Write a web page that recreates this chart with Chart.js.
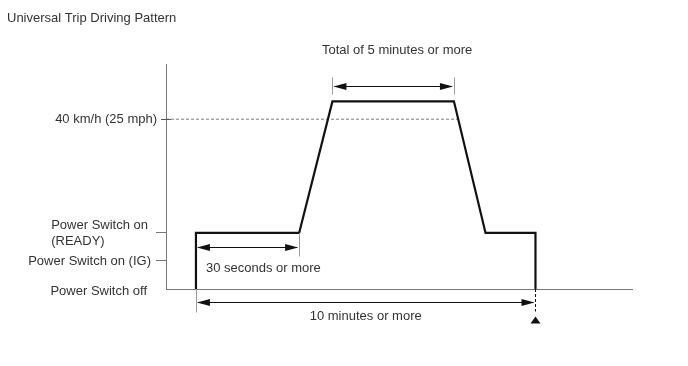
<!DOCTYPE html>
<html>
<head>
<meta charset="utf-8">
<script src="https://cdn.jsdelivr.net/npm/chart.js@4/dist/chart.umd.min.js"></script>
<style>
  html, body { margin: 0; padding: 0; background: #fff; }
  canvas { display: block; }
</style>
</head>
<body>
<canvas id="tripChart" width="688" height="366"></canvas>
<script>
// trip profile (time in minutes, level in chart units)
const timeMin = [0.9, 0.9, 4.0, 5.0, 8.65, 9.6, 11.1, 11.1];
const level = [0, 13.2, 13.2, 44.2, 44.2, 13.2, 13.2, 0];

// y-axis levels and their labels
const levelTicks = [0, 6.6, 13.2, 40];
const levelLabels = [
    ["Power Switch off"],
    ["Power Switch on (IG)"],
    ["Power Switch on", "(READY)"],
    ["40 km/h (25 mph)"],
];

// 40 km/h reference dashed line
const refLevel = 40;
const refEnd = 8.78;

// duration spans: label, from, to, level of the arrow
const spanLabels = ["Total of 5 minutes or more", "30 seconds or more", "10 minutes or more"];
const spanFrom = [5.0, 0.9, 0.9];
const spanTo = [8.65, 4.0, 11.1];
const spanLevel = [47.8, 9.9, -3.1];

const titleText = "Universal Trip Driving Pattern";
const font = "13px 'Liberation Sans', Arial, sans-serif";

const arrowHead = (ctx, x, y, dir) => {
    ctx.beginPath();
    ctx.moveTo(x, y);
    ctx.lineTo(x - dir * 13, y - 3.5);
    ctx.lineTo(x - dir * 13, y + 3.5);
    ctx.closePath();
    ctx.fill();
};

const vline = (ctx, x, y1, y2, color, dash) => {
    ctx.save();
    ctx.strokeStyle = color;
    ctx.lineWidth = 1;
    if (dash) ctx.setLineDash(dash);
    ctx.beginPath();
    ctx.moveTo(Math.round(x) + 0.5, y1);
    ctx.lineTo(Math.round(x) + 0.5, y2);
    ctx.stroke();
    ctx.restore();
};

const annotations = {
    id: "annotations",
    afterDraw(chart) {
        const ctx = chart.ctx;
        const xs = chart.scales.x;
        const ys = chart.scales.y;
        ctx.save();
        ctx.font = font;
        ctx.fillStyle = "#333";
        ctx.textBaseline = "middle";

        // title
        ctx.textAlign = "left";
        ctx.fillText(titleText, 7, 18);

        // the 40 km/h tick crosses the axis
        const yRef = Math.round(ys.getPixelForValue(refLevel)) + 0.5;
        ctx.strokeStyle = "#555";
        ctx.lineWidth = 1;
        ctx.beginPath();
        ctx.moveTo(xs.left - 5, yRef);
        ctx.lineTo(xs.left + 5, yRef);
        ctx.stroke();

        // y labels (right edges differ slightly per level)
        const labelRight = [147, 151, 152, 157];
        levelTicks.forEach((v, i) => {
            const y = ys.getPixelForValue(v);
            const lines = levelLabels[i];
            if (lines.length === 1) {
                ctx.textAlign = "right";
                ctx.fillText(lines[0], labelRight[i], y + (v === 0 ? 2 : 0));
            } else {
                const left = labelRight[i] - 4 - ctx.measureText(lines[0]).width;
                ctx.textAlign = "left";
                ctx.fillText(lines[0], left, y - 8);
                ctx.fillText(lines[1], left, y + 8);
            }
        });

        // spans
        spanLabels.forEach((label, i) => {
            const x1 = xs.getPixelForValue(spanFrom[i]);
            const x2 = xs.getPixelForValue(spanTo[i]);
            const y = Math.round(ys.getPixelForValue(spanLevel[i])) + 0.5;

            if (i === 0) {
                vline(ctx, x1, y - 9, y + 8, "#999");
                vline(ctx, x2, y - 9, y + 8, "#999");
            } else if (i === 1) {
                vline(ctx, x2, ys.getPixelForValue(13.2), y + 9, "#999");
            } else {
                vline(ctx, x1, ys.getPixelForValue(0), y + 10, "#999");
                vline(ctx, x2, ys.getPixelForValue(0), y + 9, "#111", [3, 2]);
                ctx.fillStyle = "#111";
                ctx.beginPath();
                const tx = Math.round(x2) + 0.5;
                ctx.moveTo(tx, y + 14);
                ctx.lineTo(tx - 5, y + 21);
                ctx.lineTo(tx + 5, y + 21);
                ctx.closePath();
                ctx.fill();
            }

            ctx.strokeStyle = "#111";
            ctx.fillStyle = "#111";
            ctx.lineWidth = 1;
            ctx.beginPath();
            ctx.moveTo(x1 + 2, y);
            ctx.lineTo(x2 - 2, y);
            ctx.stroke();
            arrowHead(ctx, x1 + 1, y, -1);
            arrowHead(ctx, x2 - 1, y, 1);

            ctx.fillStyle = "#333";
            if (i === 0) {
                ctx.textAlign = "center";
                ctx.fillText(label, (x1 + x2) / 2 + 4, y - 36);
            } else if (i === 1) {
                ctx.textAlign = "left";
                ctx.fillText(label, x1 + 10, y + 21);
            } else {
                ctx.textAlign = "center";
                ctx.fillText(label, (x1 + x2) / 2, y + 14);
            }
        });
        ctx.restore();
    },
};

new Chart(document.getElementById("tripChart"), {
    type: "line",
    data: {
        datasets: [
            {
                data: timeMin.map((t, i) => ({ x: t, y: level[i] })),
                borderColor: "#111",
                borderWidth: 2.2,
                pointRadius: 0,
                tension: 0,
                order: 1,
            },
            {
                data: [{ x: 0, y: refLevel }, { x: refEnd, y: refLevel }],
                borderColor: "#777",
                borderWidth: 1,
                borderDash: [3, 2],
                pointRadius: 0,
                order: 2,
            },
        ],
    },
    options: {
        responsive: false,
        animation: false,
        devicePixelRatio: 1,
        layout: { padding: { top: 64, bottom: 77, left: 0, right: 56 } },
        plugins: { legend: { display: false }, tooltip: { enabled: false } },
        scales: {
            x: {
                type: "linear",
                min: 0,
                max: 14,
                grid: { display: false, drawTicks: false },
                ticks: { display: false },
                border: { display: true, color: "#777", width: 1 },
                afterFit: (scale) => { scale.height = 0; },
            },
            y: {
                type: "linear",
                min: 0,
                max: 53,
                afterBuildTicks: (scale) => {
                    scale.ticks = levelTicks.map((v) => ({ value: v }));
                },
                ticks: { display: false },
                grid: {
                    drawOnChartArea: false,
                    drawTicks: true,
                    tickLength: 10,
                    color: (c) => (c.tick && (c.tick.value === 0 || c.tick.value === refLevel) ? "rgba(0,0,0,0)" : "#777"),
                },
                border: { display: true, color: "#777", width: 1 },
                afterFit: (scale) => { scale.width = 166; },
            },
        },
    },
    plugins: [annotations],
});
</script>
</body>
</html>
